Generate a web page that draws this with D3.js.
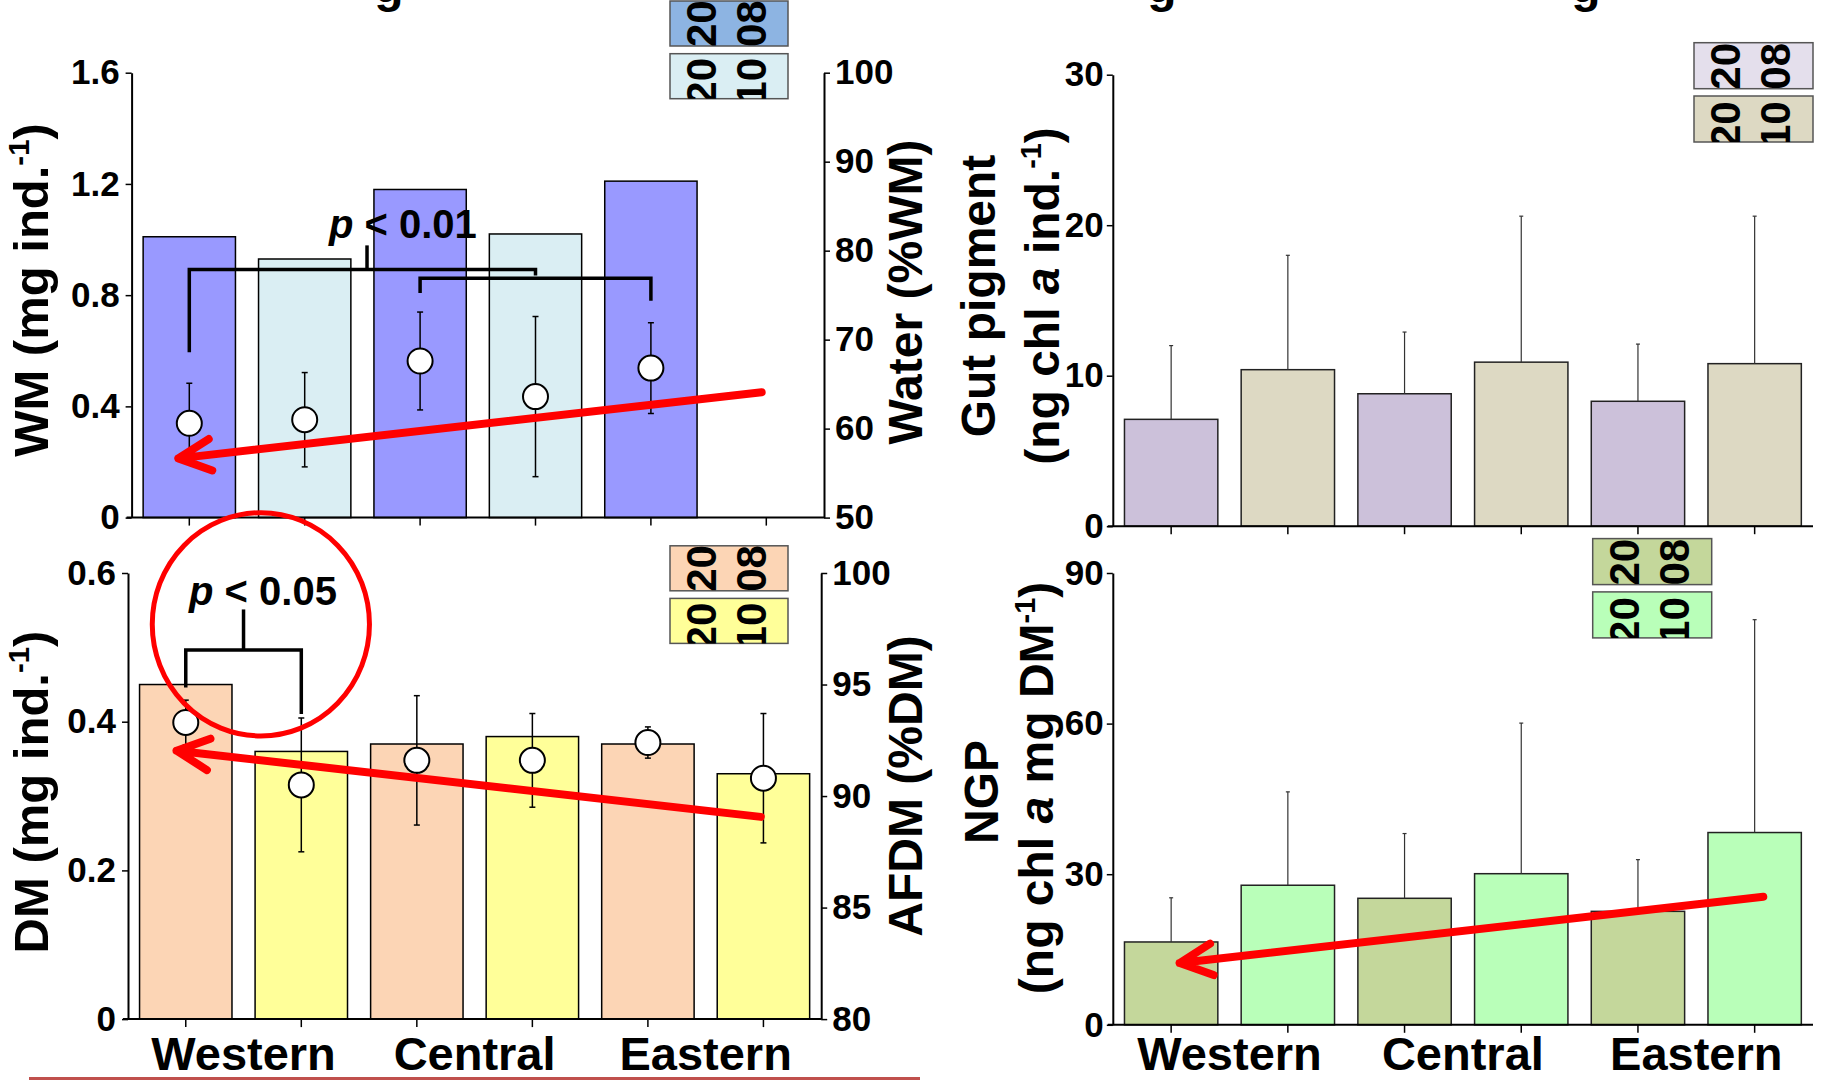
<!DOCTYPE html>
<html>
<head>
<meta charset="utf-8">
<title>Body mass and gut pigment by region</title>
<script src="https://d3js.org/d3.v7.min.js"></script>
<style>
  body { margin: 0; background: #fff; }
  text { font-family: "Liberation Sans", Arial, sans-serif; font-weight: bold; white-space: pre; }
</style>
</head>
<body>
<script>
var w = 1826, h = 1081;

var regions = ["Western", "Central", "Eastern"];
var years = ["2008", "2010"];
var groups = ["W2008", "W2010", "C2008", "C2010", "E2008", "E2010"];

// top left: wet mass (bars) and water content (points)
var wm = [1.01, 0.93, 1.18, 1.02, 1.21, null];
var water = [60.6, 61.0, 67.6, 63.6, 66.8, null];
var waterSd = [4.5, 5.3, 5.5, 9.0, 5.1, null];

// bottom left: dry mass (bars) and ash free dry mass (points)
var dm = [0.45, 0.36, 0.37, 0.38, 0.37, 0.33];
var afdm = [93.3, 90.5, 91.6, 91.6, 92.4, 90.8];
var afdmSd = [1.0, 3.0, 2.9, 2.1, 0.7, 2.9];

// right: gut pigment and normalised gut pigment
var gut = [7.1, 10.4, 8.8, 10.9, 8.3, 10.8];
var gutSd = [4.9, 7.6, 4.1, 9.7, 3.8, 9.8];
var ngp = [16.5, 27.8, 25.2, 30.1, 22.6, 38.3];
var ngpSd = [8.8, 18.6, 12.9, 30.0, 10.3, 42.4];

var wmTicks = [0, 0.4, 0.8, 1.2, 1.6];
var waterTicks = [50, 60, 70, 80, 90, 100];
var dmTicks = [0, 0.2, 0.4, 0.6];
var afdmTicks = [80, 85, 90, 95, 100];
var gutTicks = [0, 10, 20, 30];
var ngpTicks = [0, 30, 60, 90];

var svg = d3.select("body").append("svg")
            .attr("width", w).attr("height", h)
            .style("display", "block");
svg.append("rect").attr("width", w).attr("height", h).attr("fill", "#fff");

function styleAxis(a) {
    a.attr("font-size", 35)
     .attr("font-family", "Liberation Sans, Arial, sans-serif")
     .attr("font-weight", "bold");
    a.selectAll("text").attr("fill", "#000");
    a.select(".domain").attr("stroke-width", 2);
    a.selectAll(".tick line").attr("stroke-width", 1.5);
}

function center(P, i) { return P.x(groups[i]) + P.x.bandwidth() / 2; }

function panel(p) {
    var g = svg.append("g");
    var x = d3.scaleBand().domain(groups).range([p.x0, p.x1])
              .paddingInner(0.2).paddingOuter(0.1);
    var xi = d3.scaleLinear().domain([0, groups.length]).range([p.x0, p.x1]);
    var y = d3.scaleLinear().domain(p.yDomain).range([p.y0, p.y1]);
    var P = {g: g, x: x, xi: xi, y: y};

    var bars = groups.map(function(k, i) { return {k: k, i: i, v: p.bars[i], sd: p.barSd ? p.barSd[i] : null}; })
                     .filter(function(d) { return d.v != null; });

    g.selectAll("rect.bar").data(bars).enter().append("rect")
        .attr("class", "bar")
        .attr("x", function(d) { return x(d.k); })
        .attr("y", function(d) { return y(d.v); })
        .attr("width", x.bandwidth())
        .attr("height", function(d) { return p.y0 - y(d.v); })
        .attr("fill", function(d) { return p.colors[d.i % 2]; })
        .attr("stroke", p.barStroke).attr("stroke-width", 1.5);

    // upward error bars on bars
    if (p.barSd) {
        var eb = g.selectAll("g.eb").data(bars).enter().append("g").attr("stroke", "#333").attr("stroke-width", 1.2);
        eb.append("line")
            .attr("x1", function(d) { return center(P, d.i); })
            .attr("x2", function(d) { return center(P, d.i); })
            .attr("y1", function(d) { return y(d.v); })
            .attr("y2", function(d) { return y(d.v + d.sd); });
        eb.append("line")
            .attr("x1", function(d) { return center(P, d.i) - 2; })
            .attr("x2", function(d) { return center(P, d.i) + 2; })
            .attr("y1", function(d) { return y(d.v + d.sd); })
            .attr("y2", function(d) { return y(d.v + d.sd); });
    }

    var ax = g.append("g").attr("transform", "translate(0," + p.y0 + ")")
        .call(d3.axisBottom(x).tickSize(8).tickSizeOuter(0).tickFormat(""));
    styleAxis(ax);
    ax.select(".domain").attr("d", "M" + (p.x0 - 5) + ",0H" + p.x1);

    var ay = g.append("g").attr("transform", "translate(" + p.x0 + ",0)")
        .call(d3.axisLeft(y).tickValues(p.yTicks).tickSize(6).tickSizeOuter(0)
                .tickPadding(p.pad).tickFormat(function(d) { return String(d); }));
    styleAxis(ay);

    if (p.y2Domain) {
        var y2 = d3.scaleLinear().domain(p.y2Domain).range([p.y0, p.y1]);
        P.y2 = y2;
        var ar = g.append("g").attr("transform", "translate(" + p.x1 + ",0)")
            .call(d3.axisRight(y2).tickValues(p.y2Ticks).tickSize(6).tickSizeOuter(0)
                    .tickPadding(5).tickFormat(function(d) { return String(d); }));
        styleAxis(ar);

        var pts = groups.map(function(k, i) { return {k: k, i: i, v: p.pts[i], sd: p.ptsSd[i]}; })
                        .filter(function(d) { return d.v != null; });
        var pe = g.selectAll("g.pt").data(pts).enter().append("g").attr("class", "pt");
        pe.append("line")
            .attr("x1", function(d) { return center(P, d.i); })
            .attr("x2", function(d) { return center(P, d.i); })
            .attr("y1", function(d) { return y2(d.v - d.sd); })
            .attr("y2", function(d) { return y2(d.v + d.sd); })
            .attr("stroke", "#000").attr("stroke-width", 1.5);
        [-1, 1].forEach(function(s) {
            pe.append("line")
                .attr("x1", function(d) { return center(P, d.i) - 3; })
                .attr("x2", function(d) { return center(P, d.i) + 3; })
                .attr("y1", function(d) { return y2(d.v + s * d.sd); })
                .attr("y2", function(d) { return y2(d.v + s * d.sd); })
                .attr("stroke", "#000").attr("stroke-width", 1.5);
        });
        pe.append("circle")
            .attr("cx", function(d) { return center(P, d.i); })
            .attr("cy", function(d) { return y2(d.v); })
            .attr("r", 12.5)
            .attr("fill", "#fff").attr("stroke", "#000").attr("stroke-width", 2);
    }

    if (p.xLabelY) {
        regions.forEach(function(r, j) {
            g.append("text")
                .attr("x", (center(P, 2 * j) + center(P, 2 * j + 1)) / 2)
                .attr("y", p.xLabelY)
                .attr("text-anchor", "middle").attr("font-size", 47)
                .text(r);
        });
    }
    return P;
}

var clipId = 0;
function legend(x, ys, bw, bh, colors) {
    ys.forEach(function(by, k) {
        var id = "lg" + (clipId++);
        svg.append("clipPath").attr("id", id)
           .append("rect").attr("x", x).attr("y", by).attr("width", bw).attr("height", bh);
        svg.append("rect").attr("x", x).attr("y", by).attr("width", bw).attr("height", bh)
           .attr("fill", colors[k]).attr("stroke", "#555").attr("stroke-width", 1.5);
        var t = svg.append("g").attr("clip-path", "url(#" + id + ")");
        var off = k === 0 ? 1 : 6;
        [years[k].slice(0, 2), years[k].slice(2)].forEach(function(s, c) {
            t.append("text")
                .attr("transform", "translate(" + (x + 46 + c * 50) + "," + (by + bh + off) + ") rotate(-90)")
                .attr("font-size", 42)
                .text(s);
        });
    });
}

function vtitle(x, y, parts, fs) {
    var t = svg.append("text")
        .attr("transform", "translate(" + x + "," + y + ") rotate(-90)")
        .attr("text-anchor", "middle").attr("font-size", fs);
    var up = 0;
    parts.forEach(function(p) {
        var s = t.append("tspan").text(p.t);
        if (p.it) s.attr("font-style", "italic");
        if (p.sup) { s.attr("font-size", fs * 0.6).attr("dy", -fs * 0.38); up = fs * 0.38; }
        else if (up) { s.attr("dy", up); up = 0; }
    });
}

function bracket(P, b) {
    var xa = center(P, b.from), xb = center(P, b.to);
    P.g.append("path")
        .attr("d", "M" + xa + "," + P.y(b.legA) + "V" + P.y(b.level) + "H" + xb + "V" + P.y(b.legB))
        .attr("fill", "none").attr("stroke", "#000").attr("stroke-width", 3.5);
    if (b.stem != null) {
        P.g.append("line")
            .attr("x1", P.xi(b.stem)).attr("x2", P.xi(b.stem))
            .attr("y1", P.y(b.level)).attr("y2", P.y(b.stemTop))
            .attr("stroke", "#000").attr("stroke-width", 3.5);
    }
}

function pLabel(P, l) {
    var t = P.g.append("text").attr("x", P.xi(l.at)).attr("y", P.y(l.v)).attr("font-size", 40);
    t.append("tspan").attr("font-style", "italic").text("p");
    t.append("tspan").text(" < " + l.txt);
}

function arrow(P, a) {
    var x1 = P.xi(a.from[0]), y1 = P.y(a.from[1]), x2 = P.xi(a.to[0]), y2 = P.y(a.to[1]);
    var ang = Math.atan2(y1 - y2, x1 - x2), L = 36, sp = 26 * Math.PI / 180;
    var d = "M" + x1 + "," + y1 + "L" + x2 + "," + y2 +
            "M" + (x2 + L * Math.cos(ang - sp)) + "," + (y2 + L * Math.sin(ang - sp)) +
            "L" + x2 + "," + y2 +
            "L" + (x2 + L * Math.cos(ang + sp)) + "," + (y2 + L * Math.sin(ang + sp));
    P.g.append("path").attr("d", d).attr("fill", "none").attr("stroke", "#ff0000")
       .attr("stroke-width", 8).attr("stroke-linecap", "round").attr("stroke-linejoin", "round");
}

// panels
var tl = panel({x0: 131.6, x1: 824, y0: 517.6, y1: 72.7, pad: 6,
    yDomain: [0, 1.6], yTicks: wmTicks, y2Domain: [50, 100], y2Ticks: waterTicks,
    bars: wm, colors: ["#9999ff", "#daeef3"], barStroke: "#000",
    pts: water, ptsSd: waterSd});
var bl = panel({x0: 128, x1: 821.2, y0: 1019.1, y1: 573, pad: 6,
    yDomain: [0, 0.6], yTicks: dmTicks, y2Domain: [80, 100], y2Ticks: afdmTicks,
    bars: dm, colors: ["#fcd5b5", "#ffff99"], barStroke: "#000",
    pts: afdm, ptsSd: afdmSd, xLabelY: 1070});
var tr = panel({x0: 1112.8, x1: 1813, y0: 526.2, y1: 74.7, pad: 3,
    yDomain: [0, 30], yTicks: gutTicks,
    bars: gut, barSd: gutSd, colors: ["#ccc1da", "#ddd9c3"], barStroke: "#222"});
var br = panel({x0: 1112.8, x1: 1813, y0: 1024.8, y1: 573, pad: 3,
    yDomain: [0, 90], yTicks: ngpTicks,
    bars: ngp, barSd: ngpSd, colors: ["#c4d79b", "#b9ffb9"], barStroke: "#222",
    xLabelY: 1070});

// significance brackets, labels, trend arrows
bracket(tl, {from: 0, to: 3, level: 0.892, legA: 0.595, legB: 0.871, stem: 2.04, stemTop: 0.979});
bracket(tl, {from: 2, to: 4, level: 0.861, legA: 0.808, legB: 0.780});
pLabel(tl, {at: 1.71, v: 1.007, txt: "0.01"});
arrow(tl, {from: [5.46, 0.451], to: [0.405, 0.213]});

bracket(bl, {from: 0, to: 1, level: 0.4966, legA: 0.4461, legB: 0.4105, stem: 1.0, stemTop: 0.551});
pLabel(bl, {at: 0.528, v: 0.5567, txt: "0.05"});
arrow(bl, {from: [5.477, 0.272], to: [0.42, 0.361]});
bl.g.append("ellipse").attr("cx", bl.xi(1.15)).attr("cy", bl.y(0.531))
    .attr("rx", 108.6).attr("ry", 111.6)
    .attr("fill", "none").attr("stroke", "#ff0000").attr("stroke-width", 5);

arrow(br, {from: [5.574, 25.5], to: [0.573, 12.3]});

// legends
legend(670, [1, 53.7], 118, 45, ["#8db4e2", "#daeef3"]);
legend(1694, [42.7, 96], 119, 46, ["#e4dfec", "#ddd9c3"]);
legend(670, [545.8, 598.4], 118, 45, ["#fcd5b5", "#ffff99"]);
legend(1592.7, [538.6, 591.9], 119, 46, ["#c4d79b", "#b9ffb9"]);

// axis titles
vtitle(48, 290, [{t: "WM (mg ind."}, {t: "-1", sup: true}, {t: ")"}], 49);
vtitle(922, 292, [{t: "Water (%WM)"}], 48);
vtitle(48, 792, [{t: "DM (mg ind."}, {t: "-1", sup: true}, {t: ")"}], 49);
vtitle(922, 786, [{t: "AFDM (%DM)"}], 48);
vtitle(995, 296, [{t: "Gut pigment"}], 48);
vtitle(1059, 296, [{t: "(ng chl "}, {t: "a", it: true}, {t: " ind."}, {t: "-1", sup: true}, {t: ")"}], 48);
vtitle(998, 792, [{t: "NGP"}], 48);
vtitle(1053, 788, [{t: "(ng chl "}, {t: "a", it: true}, {t: " mg DM"}, {t: "-1", sup: true}, {t: ")"}], 48);

// panel titles cut off at the top edge: only descenders remain visible
[389, 1162, 1586].forEach(function(x) {
    svg.append("text").attr("x", x).attr("y", 2).attr("text-anchor", "middle")
       .attr("font-size", 48).text("g");
});

svg.append("line").attr("x1", 29).attr("x2", 920).attr("y1", 1078.5).attr("y2", 1078.5)
   .attr("stroke", "#c0504d").attr("stroke-width", 3);
</script>
</body>
</html>
